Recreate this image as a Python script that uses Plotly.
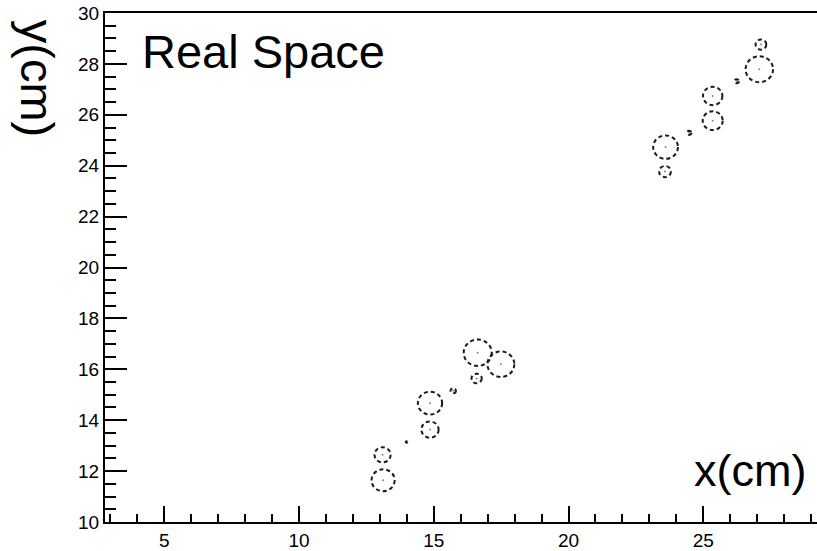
import plotly.graph_objects as go

# Drift-circle hits: centre x, centre y (cm) and radius (cm)
hit_x = [13.12, 13.10, 13.99, 14.86, 14.86, 15.72, 16.63, 16.59, 17.49,
         23.60, 23.58, 24.48, 25.35, 25.35, 26.24, 27.08, 27.14]
hit_y = [11.64, 12.64, 13.14, 13.63, 14.67, 15.16, 16.65, 15.64, 16.20,
         24.73, 23.77, 25.29, 25.77, 26.74, 27.32, 27.79, 28.76]
hit_r = [0.43, 0.30, 0.03, 0.32, 0.45, 0.10, 0.52, 0.19, 0.50,
         0.46, 0.22, 0.08, 0.37, 0.36, 0.08, 0.51, 0.20]

x_range = [2.8, 29.22]
y_range = [10, 30]
x_ticks = [5, 10, 15, 20, 25]
y_ticks = [10, 12, 14, 16, 18, 20, 22, 24, 26, 28, 30]

FONT = "Liberation Sans, Arial, Helvetica, sans-serif"

fig = go.Figure()

# centre dots
fig.add_trace(go.Scatter(
    x=hit_x, y=hit_y, mode="markers",
    marker=dict(size=2, color="#888888"),
    hoverinfo="skip", showlegend=False))

shapes = []
for cx, cy, r in zip(hit_x, hit_y, hit_r):
    shapes.append(dict(
        type="circle", xref="x", yref="y",
        x0=cx - r, x1=cx + r, y0=cy - r, y1=cy + r,
        line=dict(color="#1a1a1a", width=2, dash="4px,3px")))

fig.update_layout(
    width=817, height=551,
    margin=dict(l=105, r=0, t=13, b=26),
    paper_bgcolor="white", plot_bgcolor="white",
    showlegend=False,
    shapes=shapes,
    font=dict(family=FONT, color="black"),
    xaxis=dict(
        range=x_range, tickvals=x_ticks, ticktext=[str(v) for v in x_ticks],
        showgrid=False, zeroline=False,
        showline=True, linecolor="black", linewidth=2, mirror=True,
        ticks="inside", ticklen=16, tickwidth=2, tickcolor="black",
        tickfont=dict(size=19, family=FONT, color="black"),
        minor=dict(dtick=1, tick0=0, ticks="inside", ticklen=8,
                   tickwidth=2, tickcolor="black", showgrid=False),
    ),
    yaxis=dict(
        range=y_range, tickvals=y_ticks, ticktext=[str(v) for v in y_ticks],
        showgrid=False, zeroline=False,
        showline=True, linecolor="black", linewidth=2, mirror=False,
        ticks="inside", ticklen=22, tickwidth=2, tickcolor="black",
        tickfont=dict(size=19, family=FONT, color="black"),
        minor=dict(dtick=0.5, tick0=0, ticks="inside", ticklen=11,
                   tickwidth=2, tickcolor="black", showgrid=False),
    ),
    annotations=[
        dict(text="Real Space", xref="paper", yref="paper",
             x=0.049, y=0.924, xanchor="left", yanchor="middle",
             showarrow=False, font=dict(size=47, family=FONT, color="black")),
        dict(text="x(cm)", xref="paper", yref="paper",
             x=0.987, y=0.102, xanchor="right", yanchor="middle",
             showarrow=False, font=dict(size=45, family=FONT, color="black")),
        dict(text="y(cm)", xref="paper", yref="paper",
             x=-0.095, y=0.872, xanchor="center", yanchor="middle",
             textangle=90,
             showarrow=False, font=dict(size=47, family=FONT, color="black")),
    ],
)

fig.write_html("out.html")
